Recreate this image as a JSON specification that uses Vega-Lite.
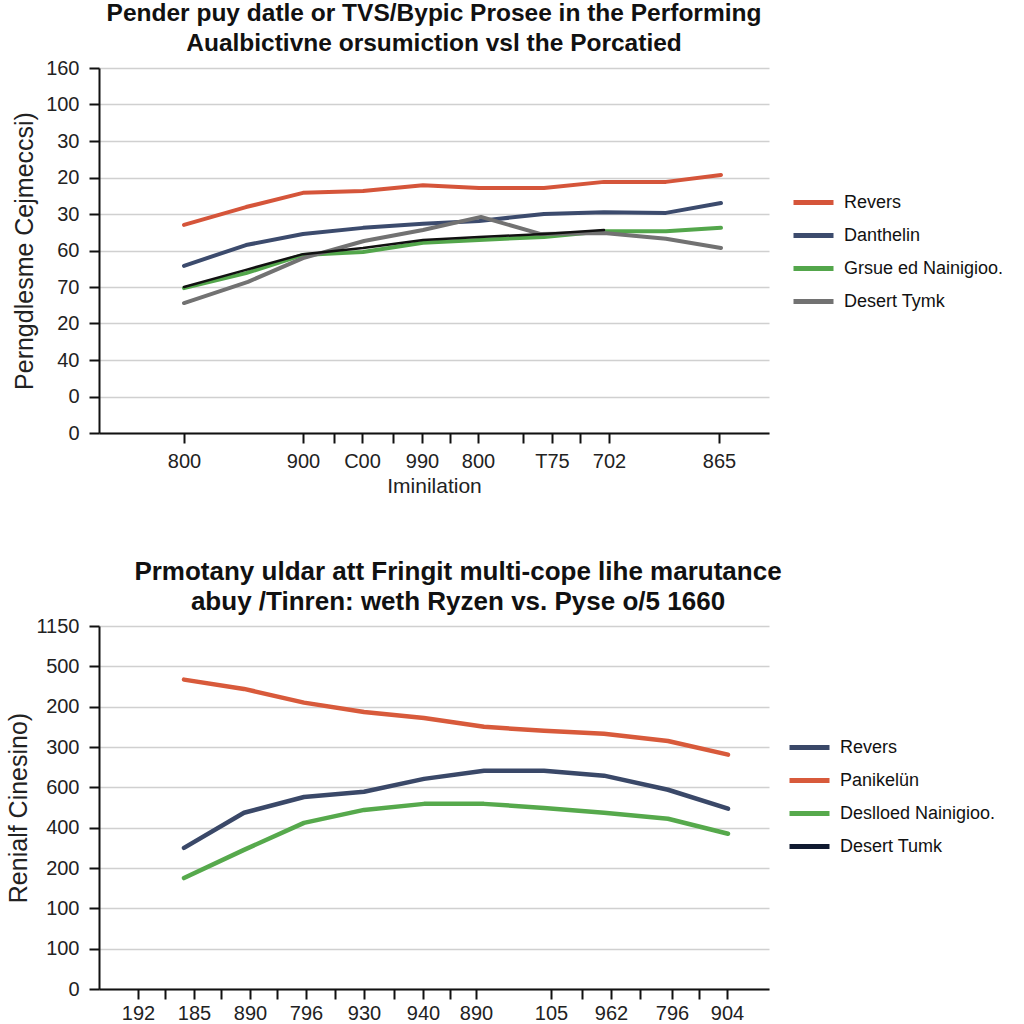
{
  "$schema": "https://vega.github.io/schema/vega-lite/v6.json",
  "background": "white",
  "padding": {"left": 6, "top": 0, "right": 0, "bottom": 0},
  "config": {
    "font": "Liberation Sans",
    "view": {"stroke": null},
    "axis": {"labelFont": "Liberation Sans", "labelFontSize": 20, "labelColor": "#222", "domainColor": "#111", "domainWidth": 2, "tickColor": "#111", "tickWidth": 2, "tickSize": 10, "gridColor": "#d0d0d0", "gridWidth": 1.5, "titleFont": "Liberation Sans", "titleFontSize": 25, "titleFontWeight": "normal", "titleColor": "#222", "labelOverlap": false, "labelFlush": false, "labelBound": false},
    "title": {"font": "Liberation Sans", "fontWeight": "bold", "color": "#111", "lineHeight": 30, "anchor": "middle"},
    "legend": {"orient": "none", "symbolType": "stroke", "symbolStrokeWidth": 5, "symbolSize": 1600, "labelFont": "Liberation Sans", "labelFontSize": 18, "labelColor": "#111", "rowPadding": -1.5, "labelOffset": 8, "padding": 0, "labelLimit": 300},
    "concat": {"spacing": 63}
  },
  "resolve": {"scale": {"color": "independent", "x": "independent", "y": "independent"}, "legend": {"color": "independent"}},
  "vconcat": [
    {
      "width": 670,
      "height": 365,
      "title": {"text": ["Pender puy datle or TVS/Bypic Prosee in the Performing", "Aualbictivne orsumiction vsl the Porcatied"], "offset": 2, "fontSize": 24.5},
      "data": {"values": [
        {"series": "Revers", "pos": 8.5, "val": 5.70}, {"series": "Revers", "pos": 14.7, "val": 6.19}, {"series": "Revers", "pos": 20.4, "val": 6.58}, {"series": "Revers", "pos": 26.4, "val": 6.63}, {"series": "Revers", "pos": 32.4, "val": 6.79}, {"series": "Revers", "pos": 38.0, "val": 6.71}, {"series": "Revers", "pos": 44.5, "val": 6.71}, {"series": "Revers", "pos": 50.5, "val": 6.88}, {"series": "Revers", "pos": 56.7, "val": 6.88}, {"series": "Revers", "pos": 62.2, "val": 7.07},
        {"series": "Danthelin", "pos": 8.5, "val": 4.58}, {"series": "Danthelin", "pos": 14.7, "val": 5.15}, {"series": "Danthelin", "pos": 20.4, "val": 5.45}, {"series": "Danthelin", "pos": 26.4, "val": 5.62}, {"series": "Danthelin", "pos": 32.4, "val": 5.73}, {"series": "Danthelin", "pos": 38.0, "val": 5.81}, {"series": "Danthelin", "pos": 44.5, "val": 6.00}, {"series": "Danthelin", "pos": 50.5, "val": 6.05}, {"series": "Danthelin", "pos": 56.7, "val": 6.03}, {"series": "Danthelin", "pos": 62.2, "val": 6.30},
        {"series": "Grsue ed Nainigioo.", "pos": 8.5, "val": 3.97}, {"series": "Grsue ed Nainigioo.", "pos": 14.7, "val": 4.38}, {"series": "Grsue ed Nainigioo.", "pos": 20.4, "val": 4.88}, {"series": "Grsue ed Nainigioo.", "pos": 26.4, "val": 4.96}, {"series": "Grsue ed Nainigioo.", "pos": 32.4, "val": 5.21}, {"series": "Grsue ed Nainigioo.", "pos": 38.0, "val": 5.29}, {"series": "Grsue ed Nainigioo.", "pos": 44.5, "val": 5.37}, {"series": "Grsue ed Nainigioo.", "pos": 50.5, "val": 5.53}, {"series": "Grsue ed Nainigioo.", "pos": 56.7, "val": 5.53}, {"series": "Grsue ed Nainigioo.", "pos": 62.2, "val": 5.62},
        {"series": "Desert Tymk", "pos": 8.5, "val": 3.56}, {"series": "Desert Tymk", "pos": 14.9, "val": 4.14}, {"series": "Desert Tymk", "pos": 20.4, "val": 4.79}, {"series": "Desert Tymk", "pos": 26.5, "val": 5.26}, {"series": "Desert Tymk", "pos": 32.4, "val": 5.56}, {"series": "Desert Tymk", "pos": 38.2, "val": 5.92}, {"series": "Desert Tymk", "pos": 44.2, "val": 5.45}, {"series": "Desert Tymk", "pos": 50.5, "val": 5.48}, {"series": "Desert Tymk", "pos": 56.7, "val": 5.32}, {"series": "Desert Tymk", "pos": 62.2, "val": 5.07},
        {"series": "extra", "pos": 8.5, "val": 4.00}, {"series": "extra", "pos": 14.7, "val": 4.47}, {"series": "extra", "pos": 20.4, "val": 4.90}, {"series": "extra", "pos": 26.4, "val": 5.07}, {"series": "extra", "pos": 32.4, "val": 5.29}, {"series": "extra", "pos": 38.0, "val": 5.37}, {"series": "extra", "pos": 44.5, "val": 5.45}, {"series": "extra", "pos": 50.5, "val": 5.56}
      ]},
      "encoding": {
        "x": {"field": "pos", "type": "quantitative", "scale": {"domain": [0, 67], "nice": false, "zero": false},
              "axis": {"title": "Iminilation", "titleFontSize": 21, "grid": false, "values": [8.5, 20.4, 23.5, 26.3, 29.4, 32.3, 35.1, 37.9, 42.4, 45.3, 48.1, 51.0, 62.0], "labelPadding": 8, "titlePadding": 4,
                       "labelExpr": "['800','900','','C00','','990','','800','','T75','','702','865'][indexof([8.5,20.4,23.5,26.3,29.4,32.3,35.1,37.9,42.4,45.3,48.1,51.0,62.0], datum.value)]"}},
        "y": {"field": "val", "type": "quantitative", "scale": {"domain": [0, 10], "nice": false, "zero": false},
              "axis": {"title": "Perngdlesme Cejmeccsi)", "grid": true, "values": [0,1,2,3,4,5,6,7,8,9,10], "labelPadding": 10, "titlePadding": 8,
                       "labelExpr": "['0','0','40','20','70','60','30','20','30','100','160'][datum.value]"}}
      },
      "layer": [
        {
          "transform": [{"filter": "datum.series !== 'extra'"}],
          "mark": {"type": "line", "strokeWidth": 4, "strokeCap": "round", "strokeJoin": "round"},
          "encoding": {
            "color": {"field": "series", "type": "nominal", "title": null,
                      "scale": {"domain": ["Revers", "Danthelin", "Grsue ed Nainigioo.", "Desert Tymk"], "range": ["#d5553a", "#3c4b6d", "#53a64b", "#727272"]},
                      "legend": {"legendX": 692, "legendY": 112}},
            "order": {"field": "pos", "type": "quantitative"}
          }
        },
        {
          "transform": [{"filter": "datum.series === 'extra'"}],
          "mark": {"type": "line", "strokeWidth": 2.5, "color": "#111111", "strokeCap": "round"},
          "encoding": {}
        }
      ]
    },
    {
      "width": 670,
      "height": 363,
      "title": {"text": ["Prmotany uldar att Fringit multi-cope lihe marutance", "abuy /Tinren: weth Ryzen vs. Pyse o/5 1660"], "offset": 1, "dx": 24, "fontSize": 26},
      "data": {"values": [
        {"series": "Panikelün", "pos": 8.5, "val": 7.67}, {"series": "Panikelün", "pos": 14.5, "val": 7.44}, {"series": "Panikelün", "pos": 20.5, "val": 7.10}, {"series": "Panikelün", "pos": 26.5, "val": 6.87}, {"series": "Panikelün", "pos": 32.5, "val": 6.72}, {"series": "Panikelün", "pos": 38.5, "val": 6.50}, {"series": "Panikelün", "pos": 44.5, "val": 6.40}, {"series": "Panikelün", "pos": 50.5, "val": 6.33}, {"series": "Panikelün", "pos": 56.9, "val": 6.15}, {"series": "Panikelün", "pos": 62.9, "val": 5.81},
        {"series": "Revers", "pos": 8.5, "val": 3.50}, {"series": "Revers", "pos": 14.5, "val": 4.37}, {"series": "Revers", "pos": 20.5, "val": 4.76}, {"series": "Revers", "pos": 26.5, "val": 4.89}, {"series": "Revers", "pos": 32.5, "val": 5.21}, {"series": "Revers", "pos": 38.5, "val": 5.41}, {"series": "Revers", "pos": 44.5, "val": 5.41}, {"series": "Revers", "pos": 50.5, "val": 5.29}, {"series": "Revers", "pos": 56.9, "val": 4.94}, {"series": "Revers", "pos": 62.9, "val": 4.47},
        {"series": "Deslloed Nainigioo.", "pos": 8.5, "val": 2.75}, {"series": "Deslloed Nainigioo.", "pos": 14.5, "val": 3.45}, {"series": "Deslloed Nainigioo.", "pos": 20.5, "val": 4.12}, {"series": "Deslloed Nainigioo.", "pos": 26.5, "val": 4.44}, {"series": "Deslloed Nainigioo.", "pos": 32.5, "val": 4.59}, {"series": "Deslloed Nainigioo.", "pos": 38.5, "val": 4.59}, {"series": "Deslloed Nainigioo.", "pos": 44.5, "val": 4.49}, {"series": "Deslloed Nainigioo.", "pos": 50.5, "val": 4.37}, {"series": "Deslloed Nainigioo.", "pos": 56.9, "val": 4.22}, {"series": "Deslloed Nainigioo.", "pos": 62.9, "val": 3.85}
      ]},
      "mark": {"type": "line", "strokeWidth": 4.5, "strokeCap": "round", "strokeJoin": "round"},
      "encoding": {
        "x": {"field": "pos", "type": "quantitative", "scale": {"domain": [0, 67], "nice": false, "zero": false},
              "axis": {"title": null, "grid": false, "values": [3.9, 6.6, 9.5, 12.2, 15.1, 17.8, 20.7, 23.6, 26.5, 29.5, 32.4, 35.1, 37.7, 45.2, 48.3, 51.2, 54.1, 57.3, 60.0, 62.8], "labelPadding": 4,
                       "labelExpr": "['192','','185','','890','','796','','930','','940','','890','105','','962','','796','','904'][indexof([3.9,6.6,9.5,12.2,15.1,17.8,20.7,23.6,26.5,29.5,32.4,35.1,37.7,45.2,48.3,51.2,54.1,57.3,60.0,62.8], datum.value)]"}},
        "y": {"field": "val", "type": "quantitative", "scale": {"domain": [0, 9], "nice": false, "zero": false},
              "axis": {"title": "Renialf Cinesino)", "grid": true, "values": [0,1,2,3,4,5,6,7,8,9], "labelPadding": 10, "titlePadding": 4,
                       "labelExpr": "['0','100','100','200','400','600','300','200','500','1150'][datum.value]"}},
        "color": {"field": "series", "type": "nominal", "title": null,
                  "scale": {"domain": ["Revers", "Panikelün", "Deslloed Nainigioo.", "Desert Tumk"], "range": ["#3a4868", "#d85a3b", "#56a94c", "#101a30"]},
                  "legend": {"legendX": 688, "legendY": 99}},
        "order": {"field": "pos", "type": "quantitative"}
      }
    }
  ]
}
